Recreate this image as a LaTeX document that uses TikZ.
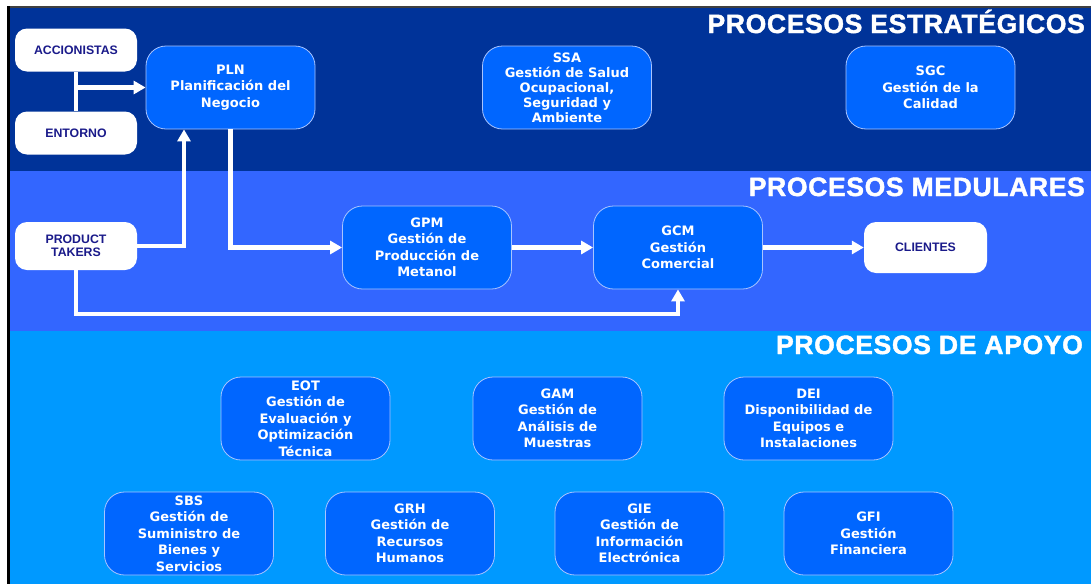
\documentclass[tikz,border=0pt]{standalone}
\usepackage{fontspec}
\setmainfont{Liberation Sans}
\newfontfamily\boxfont{DejaVu Sans}
\newfontfamily\titlefont[FakeBold=1.6,LetterSpace=2.5]{Liberation Sans}
\usetikzlibrary{arrows.meta}

\definecolor{bandtop}{HTML}{003399}
\definecolor{bandmid}{HTML}{3366FF}
\definecolor{bandlow}{HTML}{0099FF}
\definecolor{procblue}{HTML}{0066FF}
\definecolor{procedge}{HTML}{A8C4FF}
\definecolor{extnavy}{HTML}{1A1A8A}

\begin{document}
\begin{tikzpicture}[x=1pt,y=-1pt,>={Triangle[length=12pt,width=13pt]},
        proc/.style={draw=procedge,line width=0.8pt,fill=procblue,rounded corners=20pt,
            minimum width=169pt,minimum height=83pt,inner sep=0pt,align=center,text=white,
            font=\boxfont\bfseries\fontsize{13}{16.5}\selectfont},
        ext/.style={fill=white,rounded corners=12pt,minimum width=122pt,minimum height=43pt,
            inner sep=0pt,align=center,text=extnavy,font=\bfseries\fontsize{12.3}{13.5}\selectfont},
        band/.style={anchor=base east,inner sep=0pt,text=white,font=\titlefont\bfseries\fontsize{26.5}{27}\selectfont},
        flow/.style={->,white,line width=4.3pt}]
        \useasboundingbox (0,0) rectangle (1091,584);
        \fill[white] (0,0) rectangle (1091,584);

        % draw the three bands
        \fill[bandtop] (10,8) rectangle (1091,171);
        \fill[bandmid] (10,171) rectangle (1091,331);
        \fill[bandlow] (10,331) rectangle (1091,584);
        \draw[black!75,line width=2pt] (7,7) -- (1091,7);
        \draw[black,line width=3pt] (8.5,6) -- (8.5,584);

        % band titles
        \node[band] (tstrat) at (1085,33) {PROCESOS ESTRATÉGICOS};
        \node[band] (tmed) at (1085,196) {PROCESOS MEDULARES};
        \node[band] (tapoyo) at (1083,354) {PROCESOS DE APOYO};

        % outside parties
        \node[ext] (acc) at (76,50) {ACCIONISTAS};
        \node[ext] (ent) at (76,133) {ENTORNO};
        \node[ext,minimum height=48pt] (pt) at (76,246) {PRODUCT\\TAKERS};
        \node[ext,minimum width=123pt,minimum height=51pt] (cli) at (925.5,247.5) {CLIENTES};

        % draw each process box
        \foreach \name/\x/\y/\txt in {
            % strategic
            pln/230.5/87.5/{PLN\\Planificación del\\Negocio},
            sgc/930.5/87.5/{SGC\\Gestión de la\\Calidad},
            % core
            gpm/427/247.5/{GPM\\Gestión de\\Producción de\\Metanol},
            gcm/678/247.5/{GCM\\Gestión\\Comercial},
            % support
            eot/305.5/418.5/{EOT\\Gestión de\\Evaluación y\\Optimización\\Técnica},
            gam/557.5/418.5/{GAM\\Gestión de\\Análisis de\\Muestras},
            dei/808.5/418.5/{DEI\\Disponibilidad de\\Equipos e\\Instalaciones},
            sbs/189/533.5/{SBS\\Gestión de\\Suministro de\\Bienes y\\Servicios},
            grh/410/533.5/{GRH\\Gestión de\\Recursos\\Humanos},
            gie/639.5/533.5/{GIE\\Gestión de\\Información\\Electrónica},
            gfi/868.5/533.5/{GFI\\Gestión\\Financiera}}
                \node[proc] (\name) at (\x,\y) {\txt};

        % the tighter one
        \node[proc,font=\boxfont\bfseries\fontsize{13}{15}\selectfont] (ssa) at (567,87.5)
            {SSA\\Gestión de Salud\\Ocupacional,\\Seguridad y\\Ambiente};

        % draw the flows
        \draw[flow,-] (acc) -- (ent);
        \draw[flow] (acc.south |- pln.west) -- (pln.west);
        \draw[flow] (pt.east) -| ([xshift=-46.5pt]pln.south);
        \draw[flow] (pln.south) |- (gpm.west);
        \draw[flow] (gpm) -- (gcm);
        \draw[flow] (gcm.east) -- (gcm.east -| cli.west);
        \draw[flow] (pt.south) -- ++(0,44) -| (gcm.south);
\end{tikzpicture}
\end{document}
